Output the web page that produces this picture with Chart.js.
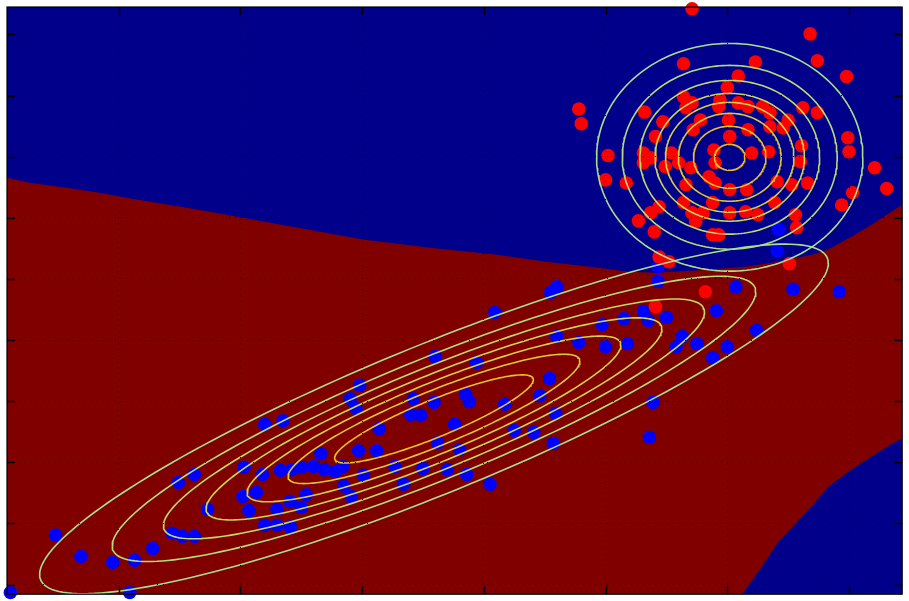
<!DOCTYPE html>
<html lang="en">
<head>
<meta charset="UTF-8">
<title>Decision regions</title>
<script src="https://cdn.jsdelivr.net/npm/chart.js"></script>
<style>
  html, body { margin: 0; padding: 0; background: #fff; }
  #wrap { width: 909px; height: 601px; position: relative; }
</style>
</head>
<body>
<div id="wrap"><canvas id="chart"></canvas></div>
<script>
// axis range (no tick labels in the original, one unit per grid line)
const xRange = [-3.918, 3.437];
const yRange = [-4.158, 5.449];

// class 1 samples (blue)
const bluePts = [
  [-3.89,-4.13],[-2.91,-4.13],[-3.52,-3.19],[-3.31,-3.54],[-3.05,-3.64],[-2.87,-3.60],[-2.72,-3.41],[-2.56,-3.16],
  [-2.48,-3.21],[-2.38,-3.21],[-2.27,-2.77],[-2.51,-2.33],[-2.38,-2.20],[-1.97,-2.08],[-1.82,-2.20],[-1.98,-2.56],
  [-1.87,-2.49],[-1.93,-2.79],[-1.80,-1.38],[-1.65,-1.32],[-1.80,-3.03],[-1.70,-3.03],[-1.59,-3.06],[-1.70,-2.77],
  [-1.59,-2.64],[-1.50,-2.74],[-1.46,-2.53],[-1.67,-2.13],[-1.58,-2.12],[-1.50,-2.08],[-1.40,-2.07],[-1.34,-1.86],
  [-1.31,-2.12],[-1.22,-2.15],[-1.16,-2.07],[-1.15,-2.39],[-1.09,-2.56],[-0.99,-2.21],[-1.03,-1.81],[-0.88,-1.81],
  [-0.86,-1.45],[-1.10,-0.96],[-1.05,-1.12],[-1.02,-0.74],[-0.73,-2.07],[-0.66,-2.36],[-0.50,-2.10],[-0.58,-0.96],
  [-0.60,-1.22],[-0.52,-1.23],[-0.41,-1.02],[-0.40,-0.27],[-0.38,-1.68],[-0.30,-2.12],[-0.20,-1.79],[-0.14,-2.20],
  [-0.24,-1.38],[-0.15,-0.89],[-0.12,-1.01],[0.17,-1.05],[0.05,-2.36],[0.25,-1.48],[0.41,-1.51],[0.57,-1.69],
  [0.59,-1.20],[0.46,-0.91],[0.54,-0.63],[-0.06,-0.37],[0.09,0.45],[0.55,0.78],[0.60,0.87],[0.60,0.06],
  [0.78,-0.04],[0.97,0.25],[1.15,0.35],[1.31,0.47],[1.35,0.32],[1.50,0.37],[1.00,-0.11],[1.18,-0.06],
  [1.63,0.06],[1.58,-0.11],[1.75,-0.06],[1.88,-0.29],[2.00,-0.11],[2.24,0.16],[1.91,0.48],[2.07,0.87],
  [2.54,0.83],[2.92,0.79],[1.43,0.96],[1.43,1.20],[2.41,1.46],[2.42,1.81],[1.39,-1.02],[1.36,-1.59]
];

// class 2 samples (red)
const redPts = [
  [1.71,5.42],[2.68,5.01],[2.74,4.57],[2.98,4.31],[2.23,4.55],[2.09,4.32],[1.64,4.52],[2.00,4.13],
  [1.64,3.98],[1.71,3.88],[1.66,3.80],[1.94,3.93],[1.93,3.82],[2.09,3.88],[2.17,3.82],[2.29,3.82],
  [2.35,3.72],[2.62,3.80],[2.74,3.72],[2.50,3.60],[2.46,3.47],[2.35,3.49],[1.32,3.73],[1.47,3.57],
  [1.41,3.33],[1.78,3.60],[1.72,3.44],[2.01,3.60],[2.02,3.33],[2.17,3.44],[2.99,3.31],[3.00,3.08],
  [2.61,3.18],[2.60,2.92],[1.02,3.02],[1.00,2.62],[1.17,2.57],[1.31,3.06],[1.37,2.98],[1.31,2.90],
  [1.54,3.06],[1.49,2.84],[1.60,2.90],[1.70,2.82],[1.89,3.11],[1.90,2.90],[2.20,3.06],[2.34,3.08],
  [1.85,2.67],[1.90,2.57],[1.66,2.54],[2.02,2.46],[2.16,2.46],[2.41,2.59],[2.53,2.54],[2.66,2.57],
  [3.21,2.82],[3.31,2.48],[3.03,2.41],[2.94,2.21],[0.78,3.78],[0.80,3.54],[1.44,2.18],[1.37,2.08],
  [1.27,1.95],[1.40,1.77],[1.64,2.25],[1.71,2.08],[1.74,1.94],[1.80,2.08],[1.88,2.25],[2.02,2.08],
  [2.15,2.10],[2.25,2.05],[1.88,1.72],[1.93,1.72],[2.39,2.25],[2.56,2.05],[2.57,1.84],[1.44,1.36],
  [1.52,1.28],[2.51,1.25],[1.82,0.79],[1.41,0.55]
];

// decision boundary: upper curve (red below it) and lower-right corner curve (blue below it)
const boundaryX = [-3.918,-3.731,-3.429,-3.159,-2.890,-2.343,-1.527,-0.980,-0.441,0.106,0.514,0.922,
                   1.192,1.412,1.739,2.147,2.416,2.694,2.824,3.020,3.184,3.437];
const boundaryY = [2.655,2.574,2.492,2.410,2.312,2.132,1.838,1.642,1.511,1.397,1.283,1.185,
                   1.119,1.103,1.136,1.201,1.283,1.397,1.479,1.691,1.887,2.214];
const cornerX = [2.122,2.286,2.416,2.555,2.694,2.824,3.020,3.184,3.371,3.437];
const cornerY = [-4.158,-3.701,-3.309,-3.015,-2.721,-2.410,-2.116,-1.904,-1.675,-1.609];

// fitted gaussians: mean, std (x, y), correlation, contour scales
const blueMean = [-0.41, -1.29];
const blueStd = [3.24, 2.86];
const blueRho = 0.89;
const blueLevels = [1, 0.816, 0.686, 0.578, 0.474, 0.370, 0.252];
const redMean = [2.02, 2.99];
const redStd = [1.094, 1.863];
const redRho = 0;
const redLevels = [1, 0.807, 0.675, 0.561, 0.482, 0.386, 0.272, 0.114];
const levelColors = ['#a6e08e', '#b2de7a', '#bedb66', '#c9d754', '#d4d044', '#dcc936', '#e4c12a', '#ecba1e'];

const BG_BLUE = '#00008b';
const BG_RED = '#800000';

function ellipse(mean, std, rho, k) {
  const pts = [];
  const s = Math.sqrt(1 - rho * rho);
  for (let i = 0; i <= 200; i++) {
    const t = i / 200 * 2 * Math.PI;
    pts.push({
      x: mean[0] + k * std[0] * Math.cos(t),
      y: mean[1] + k * std[1] * (rho * Math.cos(t) + s * Math.sin(t))
    });
  }
  return pts;
}

const toXY = (xs, ys) => xs.map((x, i) => ({ x: x, y: ys[i] }));

const datasets = [];

// contours on top
blueLevels.forEach((k, i) => datasets.push({
  type: 'line', data: ellipse(blueMean, blueStd, blueRho, k),
  borderColor: levelColors[i], borderWidth: 1.6, pointRadius: 0, fill: false, order: 0
}));
redLevels.forEach((k, i) => datasets.push({
  type: 'line', data: ellipse(redMean, redStd, redRho, k),
  borderColor: levelColors[i], borderWidth: 1.6, pointRadius: 0, fill: false, order: 0
}));

datasets.push({
  type: 'scatter', data: redPts.map(p => ({ x: p[0], y: p[1] })),
  backgroundColor: '#ff0000', borderWidth: 0, pointRadius: 6.8, clip: false, order: 1
});
datasets.push({
  type: 'scatter', data: bluePts.map(p => ({ x: p[0], y: p[1] })),
  backgroundColor: '#0000ff', borderWidth: 0, pointRadius: 6.8, clip: false, order: 2
});

// regions
datasets.push({
  type: 'line', data: toXY(cornerX, cornerY), fill: 'start',
  backgroundColor: BG_BLUE, borderWidth: 0, borderColor: 'rgba(0,0,0,0)', pointRadius: 0, order: 3
});
datasets.push({
  type: 'line', data: toXY(boundaryX, boundaryY), fill: 'start',
  backgroundColor: BG_RED, borderWidth: 0, borderColor: 'rgba(0,0,0,0)', pointRadius: 0, order: 4
});

// blue background of the plot area + matplotlib-style frame with inward ticks
const frame = {
  id: 'frame',
  beforeDatasetsDraw(chart) {
    const { ctx, chartArea: a } = chart;
    ctx.save();
    ctx.fillStyle = BG_BLUE;
    ctx.fillRect(a.left, a.top, a.right - a.left, a.bottom - a.top);
    ctx.restore();
  },
  afterDraw(chart) {
    const { ctx, chartArea: a, scales } = chart;
    ctx.save();
    ctx.strokeStyle = '#000';
    ctx.lineWidth = 1.5;
    ctx.beginPath();
    scales.x.ticks.forEach(t => {
      const px = Math.round(scales.x.getPixelForValue(t.value)) + 0.5;
      ctx.moveTo(px, a.top); ctx.lineTo(px, a.top + 8);
      ctx.moveTo(px, a.bottom); ctx.lineTo(px, a.bottom - 8);
    });
    scales.y.ticks.forEach(t => {
      const py = Math.round(scales.y.getPixelForValue(t.value)) + 0.5;
      ctx.moveTo(a.left, py); ctx.lineTo(a.left + 8, py);
      ctx.moveTo(a.right, py); ctx.lineTo(a.right - 8, py);
    });
    ctx.stroke();
    ctx.lineWidth = 1.2;
    ctx.strokeRect(a.left, a.top, a.right - a.left, a.bottom - a.top);
    ctx.restore();
  }
};

// dotted grid drawn above everything, like the original
const gridOpts = { color: '#000', lineWidth: 1, drawTicks: false, z: 1 };

new Chart(document.getElementById('chart'), {
  type: 'scatter',
  data: { datasets: datasets },
  plugins: [frame],
  options: {
    responsive: true,
    maintainAspectRatio: false,
    animation: false,
    events: [],
    layout: { padding: { left: 7, top: 7, right: 1, bottom: 6 } },
    plugins: { legend: { display: false }, tooltip: { enabled: false } },
    scales: {
      x: {
        type: 'linear', min: xRange[0], max: xRange[1],
        ticks: { display: false, stepSize: 1, includeBounds: false },
        grid: gridOpts,
        border: { display: false, dash: [1, 5] }
      },
      y: {
        type: 'linear', min: yRange[0], max: yRange[1],
        ticks: { display: false, stepSize: 1, includeBounds: false },
        grid: gridOpts,
        border: { display: false, dash: [1, 5] }
      }
    }
  }
});
</script>
</body>
</html>
